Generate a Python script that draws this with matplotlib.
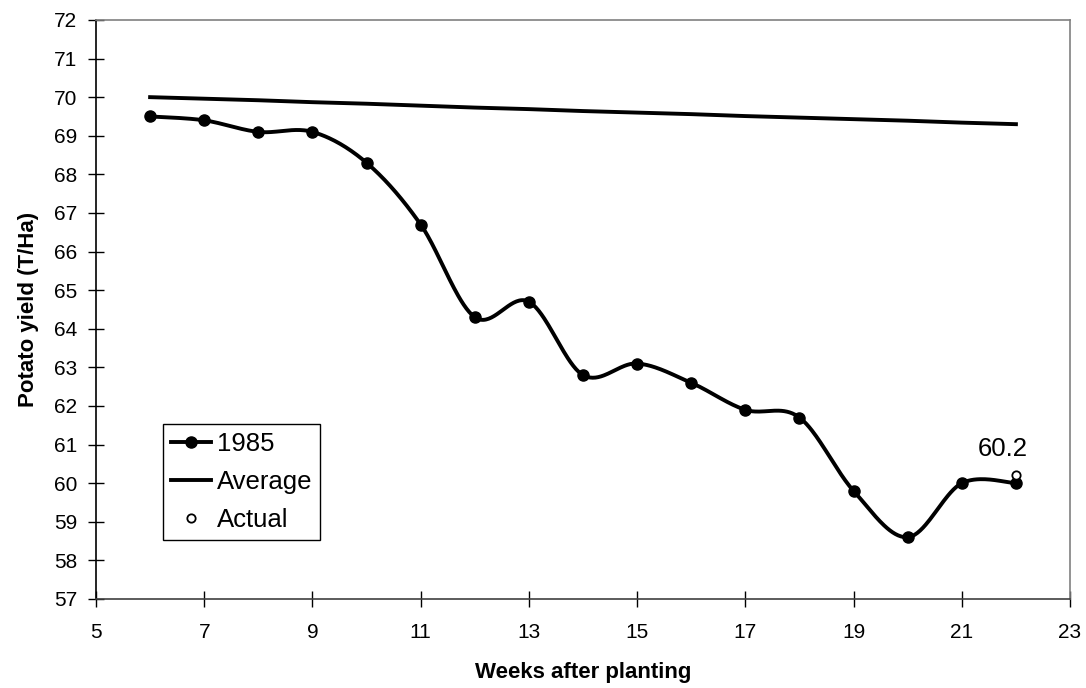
import numpy as np
import matplotlib
matplotlib.use("Agg")
import matplotlib.pyplot as plt
from matplotlib.lines import Line2D

plt.rcParams['font.family'] = ['Liberation Sans', 'DejaVu Sans']

weeks = [6, 7, 8, 9, 10, 11, 12, 13, 14, 15, 16, 17, 18, 19, 20, 21, 22]
yield_1985 = [69.5, 69.4, 69.1, 69.1, 68.3, 66.7, 64.3, 64.7, 62.8, 63.1,
              62.6, 61.9, 61.7, 59.8, 58.6, 60.0, 60.0]
yield_avg = [70.0, 69.96, 69.92, 69.87, 69.83, 69.78, 69.73, 69.69, 69.64,
             69.60, 69.56, 69.51, 69.47, 69.43, 69.39, 69.34, 69.30]
actual_week = [22]
actual_value = [60.2]
actual_label = "60.2"

x_ticks = [5, 7, 9, 11, 13, 15, 17, 19, 21, 23]
y_ticks = list(range(57, 73))


def smooth(xs, ys, n=40):
    """Excel-style smoothed line (cubic Bezier, Catmull-Rom control points)."""
    xs = np.asarray(xs, float)
    ys = np.asarray(ys, float)
    P = np.column_stack([xs, ys])
    Pext = np.vstack([P[0], P, P[-1]])
    out = []
    t = np.linspace(0, 1, n)[:, None]
    for i in range(len(P) - 1):
        p0, p1, p2, p3 = Pext[i], Pext[i + 1], Pext[i + 2], Pext[i + 3]
        c1 = p1 + (p2 - p0) / 6.0
        c2 = p2 - (p3 - p1) / 6.0
        seg = ((1 - t) ** 3) * p1 + 3 * ((1 - t) ** 2) * t * c1 + 3 * (1 - t) * t ** 2 * c2 + t ** 3 * p2
        out.append(seg if i == 0 else seg[1:])
    out = np.vstack(out)
    return out[:, 0], out[:, 1]


fig = plt.figure(figsize=(10.86, 6.88), dpi=100)
ax = fig.add_axes([0.0884, 0.1294, 0.8969, 0.8416])

lw = 2.8
ms = 8
sx, sy = smooth(weeks, yield_1985)
ax.plot(sx, sy, color='black', lw=lw, solid_capstyle='round', solid_joinstyle='round', zorder=3)
ax.plot(weeks, yield_1985, 'o', color='black', ms=ms, zorder=4)
ax.plot(weeks, yield_avg, color='black', lw=lw, zorder=3)
ax.plot(actual_week, actual_value, 'o', mfc='white', mec='black', ms=6, mew=1.3, zorder=5)
ax.text(21.75, 60.88, actual_label, fontsize=18.5, ha='center', va='center')

ax.set_xlim(5, 23)
ax.set_ylim(57, 72)
ax.set_xticks(x_ticks)
ax.set_yticks(y_ticks)
ax.tick_params(axis='both', direction='inout', length=11, width=1.0, labelsize=15, color='black')
ax.tick_params(axis='x', pad=12)
ax.tick_params(axis='y', pad=8)

ax.spines['left'].set_color('black')
ax.spines['bottom'].set_color('#404040')
ax.spines['top'].set_color('#808080')
ax.spines['right'].set_color('#808080')
for s in ax.spines.values():
    s.set_linewidth(1.2)

ax.set_xlabel('Weeks after planting', fontsize=16, fontweight='bold', labelpad=14)
ax.set_ylabel('Potato yield (T/Ha)', fontsize=16, fontweight='bold', labelpad=11)

handles = [
    Line2D([], [], color='black', lw=lw, marker='o', ms=ms),
    Line2D([], [], color='black', lw=lw),
    Line2D([], [], ls='none', marker='o', mfc='white', mec='black', ms=6, mew=1.3),
]
leg = ax.legend(handles, ['1985', 'Average', 'Actual'], loc='lower left',
                bbox_to_anchor=(0.0688, 0.102), borderaxespad=0, fontsize=18.5,
                frameon=True, fancybox=False, edgecolor='black', framealpha=1,
                handlelength=1.55, handletextpad=0.25, labelspacing=0.55,
                borderpad=0.3)
leg.get_frame().set_linewidth(1.0)

fig.savefig('out.png', dpi=100)
